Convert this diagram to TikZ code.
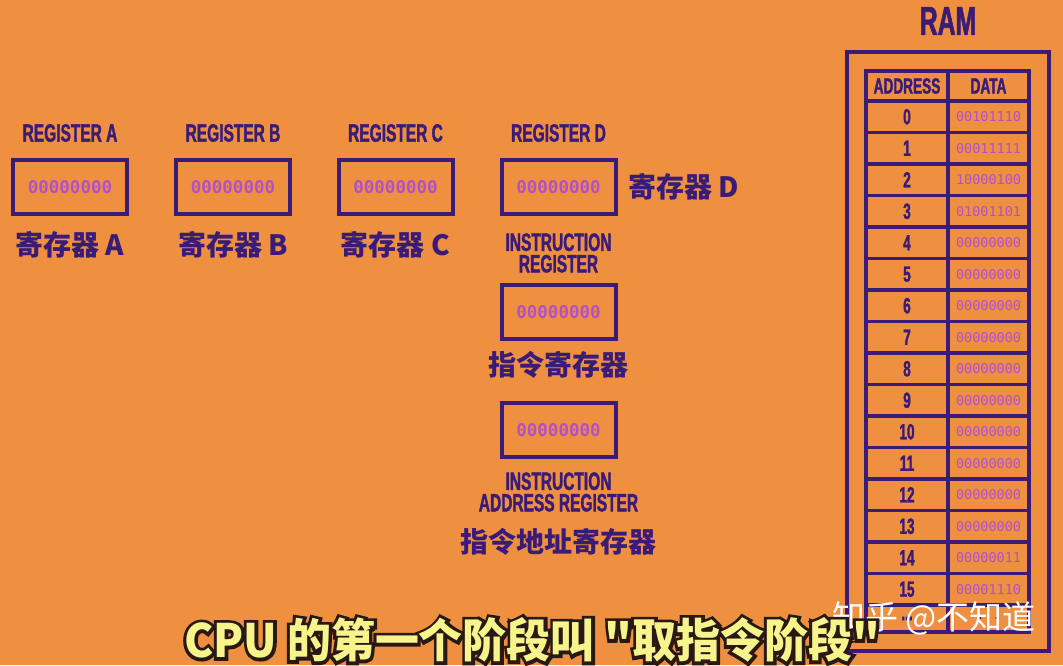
\documentclass[tikz,border=0pt]{standalone}
\usepackage{fontspec}
\usepackage{tikz}
\newfontfamily\condfont[FakeStretch=0.62,FakeBold=1.5]{Liberation Sans Bold}
\newfontfamily\bitsfont{DejaVu Sans Mono}
\newfontfamily\cjk{Noto Sans CJK SC}
\newfontfamily\cjkstage[FakeStretch=0.955]{Noto Sans CJK SC}
\newfontfamily\cjkedge[FakeStretch=0.955,FakeBold=14]{Noto Sans CJK SC}
\definecolor{bgorange}{RGB}{238,144,64}
\definecolor{regpurple}{RGB}{58,28,120}
\definecolor{bitpink}{RGB}{178,80,200}
\definecolor{subyellow}{RGB}{248,244,140}
\definecolor{subedge}{RGB}{40,25,20}

\begin{document}
\begin{tikzpicture}[x=1pt,y=-1pt,inner sep=0pt,line width=4pt,
                    draw=regpurple,text=regpurple]
  \tikzstyle{register}=[draw,minimum width=114pt,minimum height=54pt,text=bitpink,
                        font=\bitsfont\bfseries\fontsize{17.5}{20}\selectfont]
  \tikzstyle{reglabel}=[align=center,font=\condfont\fontsize{25}{21.5}\selectfont]
  \tikzstyle{cnlabel}=[font=\cjk\bfseries\fontsize{28}{30}\selectfont]
  \tikzstyle{cell}=[draw,line width=3.5pt,minimum height=31.5pt,
                    font=\condfont\fontsize{22}{22}\selectfont]
  \tikzstyle{addrcell}=[cell,minimum width=82pt]
  \tikzstyle{datacell}=[cell,minimum width=81pt,text=bitpink,
                        font=\bitsfont\fontsize{13.5}{15}\selectfont]

  \fill[bgorange] (0,0) rectangle (1063,665);
  \useasboundingbox (0,0) rectangle (1063,665);

  \node[register] (regA)     at (70,187)    {00000000};
  \node[register] (regB)     at (233,187)   {00000000};
  \node[register] (regC)     at (395.5,187) {00000000};
  \node[register] (regD)     at (558.5,187) {00000000};
  \node[register] (instreg)  at (558.5,312) {00000000};
  \node[register] (instaddr) at (558.5,430) {00000000};

  \node[reglabel,above of=regA,node distance=54pt] (nameA) {REGISTER A};
  \node[reglabel,above of=regB,node distance=54pt] (nameB) {REGISTER B};
  \node[reglabel,above of=regC,node distance=54pt] (nameC) {REGISTER C};
  \node[reglabel,above of=regD,node distance=54pt] (nameD) {REGISTER D};
  \node[reglabel,above of=instreg,node distance=59pt] (nameIR) {INSTRUCTION\\REGISTER};
  \node[reglabel,below of=instaddr,node distance=62pt] (nameIAR) {INSTRUCTION\\ADDRESS REGISTER};

  \node[cnlabel,below of=regA,node distance=58pt] (cnA) {寄存器 A};
  \node[cnlabel,below of=regB,node distance=58pt] (cnB) {寄存器 B};
  \node[cnlabel,below of=regC,node distance=58pt] (cnC) {寄存器 C};
  \node[cnlabel,right of=regD,node distance=125pt] (cnD) {寄存器 D};
  \node[cnlabel,below of=instreg,node distance=53pt] (cnIR) {指令寄存器};
  \node[cnlabel,below of=instaddr,node distance=112pt] (cnIAR) {指令地址寄存器};

  \node[font=\condfont\fontsize{40}{40}\selectfont] (ramtitle) at (948,21) {RAM};
  \node[draw,minimum width=202pt,minimum height=599pt] (ram) at (948,351.5) {};

  \node[addrcell,minimum height=30pt] (addrhead) at (907,86)   {ADDRESS};
  \node[cell,minimum width=81pt,minimum height=30pt] (datahead) at (988.5,86) {DATA};
  \foreach \n/\bits in {0/00101110,1/00011111,2/10000100,3/01001101,
                        4/00000000,5/00000000,6/00000000,7/00000000,
                        8/00000000,9/00000000,10/00000000,11/00000000,
                        12/00000000,13/00000000,14/00000011,15/00001110}
  {
    \node[addrcell] (addr\n) at (907,{116.75+31.5*\n})   {\n};
    \node[datacell] (data\n) at (988.5,{116.75+31.5*\n}) {\bits};
  }
  \node[addrcell,minimum height=27pt] (addrmore) at (907,618.5) {...};
  \node[datacell,minimum height=27pt,text=regpurple] (datamore) at (988.5,618.5) {...};

  \node[font=\cjk\fontsize{33}{33}\selectfont,text=white] (watermark) at (934,618) {知乎 @不知道};

  \node[font=\cjkedge\bfseries\fontsize{46}{46}\selectfont,text=subedge] (stageedge) at (532,640)
    {CPU 的第一个阶段叫 "取指令阶段"};
  \node[font=\cjkstage\bfseries\fontsize{46}{46}\selectfont,text=subyellow] (stage) at (532,640)
    {CPU 的第一个阶段叫 "取指令阶段"};
\end{tikzpicture}
\end{document}
